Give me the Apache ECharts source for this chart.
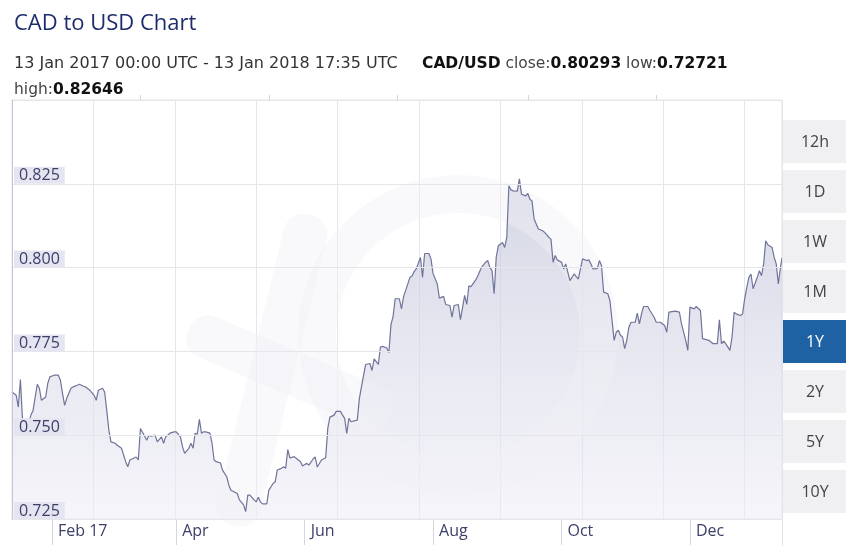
<!DOCTYPE html>
<html>
<head>
<meta charset="utf-8">
<script src="https://cdn.jsdelivr.net/npm/echarts@6/dist/echarts.min.js"></script>
<style>
html,body{margin:0;padding:0;background:#fff;}
#chart{width:860px;height:546px;}
</style>
</head>
<body>
<div id="chart"></div>
<script>
// ---- data ----
const dates = [
'2017-01-13','2017-01-15','2017-01-16','2017-01-17','2017-01-18','2017-01-19','2017-01-21','2017-01-22','2017-01-23','2017-01-25',
'2017-01-26','2017-01-27','2017-01-29','2017-01-30','2017-01-31','2017-02-02','2017-02-04','2017-02-05','2017-02-06','2017-02-07',
'2017-02-08','2017-02-10','2017-02-11','2017-02-13','2017-02-14','2017-02-16','2017-02-17','2017-02-19','2017-02-21','2017-02-22',
'2017-02-23','2017-02-25','2017-02-26','2017-02-27','2017-02-28','2017-03-01','2017-03-03','2017-03-04','2017-03-06','2017-03-08',
'2017-03-09','2017-03-10','2017-03-12','2017-03-13','2017-03-14','2017-03-15','2017-03-16','2017-03-18','2017-03-19','2017-03-20',
'2017-03-22','2017-03-23','2017-03-25','2017-03-26','2017-03-27','2017-03-29','2017-03-31','2017-04-01','2017-04-03','2017-04-04',
'2017-04-05','2017-04-07','2017-04-08','2017-04-09','2017-04-10','2017-04-11','2017-04-12','2017-04-13','2017-04-14','2017-04-15',
'2017-04-17','2017-04-18','2017-04-19','2017-04-20','2017-04-22','2017-04-23','2017-04-25','2017-04-26','2017-04-27','2017-04-30',
'2017-05-01','2017-05-03','2017-05-04','2017-05-05','2017-05-06','2017-05-08','2017-05-09','2017-05-10','2017-05-11','2017-05-12',
'2017-05-14','2017-05-15','2017-05-17','2017-05-18','2017-05-19','2017-05-21','2017-05-22','2017-05-23','2017-05-24','2017-05-25',
'2017-05-27','2017-05-28','2017-05-30','2017-05-31','2017-06-02','2017-06-03','2017-06-05','2017-06-06','2017-06-07','2017-06-09',
'2017-06-11','2017-06-12','2017-06-13','2017-06-15','2017-06-16','2017-06-18','2017-06-19','2017-06-20','2017-06-21','2017-06-22',
'2017-06-23','2017-06-26','2017-06-27','2017-06-29','2017-06-30','2017-07-02','2017-07-03','2017-07-04','2017-07-06','2017-07-07',
'2017-07-08','2017-07-10','2017-07-11','2017-07-12','2017-07-13','2017-07-14','2017-07-16','2017-07-17','2017-07-18','2017-07-19',
'2017-07-21','2017-07-22','2017-07-23','2017-07-24','2017-07-26','2017-07-27','2017-07-28','2017-07-30','2017-07-31','2017-08-01',
'2017-08-03','2017-08-04','2017-08-06','2017-08-07','2017-08-09','2017-08-10','2017-08-11','2017-08-13','2017-08-14','2017-08-16',
'2017-08-17','2017-08-18','2017-08-19','2017-08-21','2017-08-22','2017-08-24','2017-08-26','2017-08-27','2017-08-28','2017-08-29',
'2017-08-30','2017-08-31','2017-09-01','2017-09-03','2017-09-04','2017-09-05','2017-09-06','2017-09-07','2017-09-08','2017-09-10',
'2017-09-11','2017-09-12','2017-09-14','2017-09-15','2017-09-16','2017-09-17','2017-09-18','2017-09-20','2017-09-22','2017-09-23',
'2017-09-25','2017-09-26','2017-09-27','2017-09-28','2017-09-29','2017-10-01','2017-10-02','2017-10-03','2017-10-05','2017-10-07',
'2017-10-08','2017-10-09','2017-10-11','2017-10-13','2017-10-14','2017-10-15','2017-10-16','2017-10-18','2017-10-19','2017-10-20',
'2017-10-21','2017-10-23','2017-10-24','2017-10-25','2017-10-26','2017-10-27','2017-10-28','2017-10-29','2017-10-30','2017-10-31',
'2017-11-01','2017-11-02','2017-11-03','2017-11-05','2017-11-06','2017-11-07','2017-11-08','2017-11-09','2017-11-11','2017-11-12',
'2017-11-14','2017-11-15','2017-11-17','2017-11-18','2017-11-19','2017-11-20','2017-11-21','2017-11-24','2017-11-26','2017-11-27',
'2017-11-29','2017-11-30','2017-12-01','2017-12-03','2017-12-04','2017-12-06','2017-12-07','2017-12-10','2017-12-12','2017-12-14',
'2017-12-15','2017-12-16','2017-12-17','2017-12-18','2017-12-20','2017-12-21','2017-12-22','2017-12-23','2017-12-25','2017-12-26',
'2017-12-27','2017-12-28','2017-12-29','2017-12-30','2017-12-31','2018-01-02','2018-01-03','2018-01-04','2018-01-05','2018-01-06',
'2018-01-07','2018-01-09','2018-01-10','2018-01-11','2018-01-12','2018-01-13','2018-01-13 17:35'
];
const rates = [
0.7629,0.7619,0.7584,0.7666,0.7545,0.7533,0.7539,0.7560,0.7574,0.7652,
0.7640,0.7604,0.7614,0.7655,0.7674,0.7679,0.7679,0.7664,0.7625,0.7589,
0.7610,0.7640,0.7644,0.7649,0.7652,0.7646,0.7644,0.7634,0.7619,0.7604,
0.7634,0.7640,0.7629,0.7574,0.7515,0.7480,0.7476,0.7470,0.7461,0.7421,
0.7406,0.7426,0.7432,0.7435,0.7426,0.7520,0.7509,0.7485,0.7500,0.7497,
0.7500,0.7480,0.7495,0.7476,0.7495,0.7506,0.7510,0.7510,0.7495,0.7465,
0.7446,0.7461,0.7476,0.7461,0.7506,0.7503,0.7547,0.7506,0.7510,0.7510,
0.7506,0.7476,0.7426,0.7421,0.7417,0.7396,0.7376,0.7351,0.7336,0.7326,
0.7307,0.7292,0.72721,0.7321,0.7321,0.7307,0.7301,0.7315,0.7301,0.7295,
0.7295,0.7336,0.7356,0.7361,0.7396,0.7401,0.7406,0.7401,0.7457,0.7432,
0.7436,0.7431,0.7421,0.7408,0.7416,0.7411,0.7429,0.7435,0.7405,0.7426,
0.7433,0.7521,0.7554,0.7560,0.7571,0.7571,0.7560,0.7550,0.7505,0.7550,
0.7540,0.7545,0.7610,0.7679,0.7711,0.7714,0.7693,0.7728,0.7711,0.7763,
0.7765,0.7760,0.7747,0.7830,0.7854,0.7907,0.7907,0.7877,0.7914,0.7932,
0.7971,0.7975,0.7988,0.7996,0.8030,0.7971,0.8042,0.8042,0.8026,0.7982,
0.7951,0.7909,0.7914,0.7890,0.7887,0.7852,0.7887,0.7890,0.7845,0.7917,
0.7890,0.7946,0.7943,0.7961,0.7972,0.8001,0.8016,0.8021,0.8000,0.7991,
0.7922,0.8031,0.8065,0.8075,0.8060,0.8090,0.8244,0.8232,0.8229,0.8228,
0.82646,0.8219,0.8214,0.8221,0.8204,0.8199,0.8145,0.8115,0.8110,0.8105,
0.8090,0.8085,0.8016,0.8036,0.8023,0.8016,0.7996,0.8011,0.7961,0.7981,
0.7973,0.7966,0.8026,0.8021,0.8023,0.8011,0.7996,0.7997,0.8021,0.8006,
0.7927,0.7922,0.7902,0.7842,0.7783,0.7807,0.7813,0.7798,0.7793,0.7758,
0.7783,0.7822,0.7837,0.7837,0.7864,0.7832,0.7862,0.7884,0.7884,0.7872,
0.7852,0.7837,0.7837,0.7832,0.7827,0.7807,0.7867,0.7870,0.7867,0.7832,
0.7783,0.7753,0.7882,0.7877,0.7884,0.7872,0.7788,0.7783,0.7773,0.7773,
0.7844,0.7773,0.7781,0.7773,0.7753,0.7793,0.7867,0.7862,0.7857,0.7862,
0.7907,0.7941,0.7971,0.7981,0.7937,0.7971,0.7991,0.7976,0.8011,0.8080,
0.8068,0.8060,0.8031,0.8011,0.7951,0.8001,0.80293
];
const rangeStart = '2017-01-13 00:00';
const rangeEnd = '2018-01-13 17:35';
const yTickValues = [0.725, 0.750, 0.775, 0.800, 0.825];
const monthTickDates = ['2017-02-01','2017-04-01','2017-06-01','2017-08-01','2017-10-01','2017-12-01'];
const monthTickLabels = ['Feb 17','Apr','Jun','Aug','Oct','Dec'];
const midTickDates = ['2017-03-15','2017-05-15','2017-07-15','2017-09-15','2017-11-15'];
const rangeButtons = ['12h','1D','1W','1M','1Y','2Y','5Y','10Y'];
const activeButton = '1Y';
const chartTitle = 'CAD to USD Chart';
const periodText = '13 Jan 2017 00:00 UTC - 13 Jan 2018 17:35 UTC';
const pairName = 'CAD/USD';
const closeValue = '0.80293';
const lowValue = '0.72721';
const highValue = '0.82646';

// ---- helpers ----
function ts(s) {
  const m = s.match(/(\d+)-(\d+)-(\d+)(?:\s+(\d+):(\d+))?/);
  return Date.UTC(+m[1], +m[2]-1, +m[3], m[4] ? +m[4] : 0, m[5] ? +m[5] : 0);
}
const DAY = 86400000;
const t0 = ts(rangeStart), t1 = ts(rangeEnd);
const monthTs = monthTickDates.map(ts);
const midTs = midTickDates.map(ts);
const seriesData = dates.map((d, i) => [ts(d), rates[i]]);

const FONT = "'Open Sans', 'DejaVu Sans', sans-serif";
const FONT_W = "'DejaVu Sans', 'Open Sans', sans-serif";
const chart = echarts.init(document.getElementById('chart'), null, {renderer: 'canvas'});

const gridLeft = 12, gridTop = 100, gridRight = 78, gridBottom = 27;
const btnX = 782, btnW = 64, btnH = 43, btnTop = 120, btnStep = 50;

const graphics = [];
// faint watermark (xe logo impression): above the area fill, below the line
const wmFill = 'rgba(240,240,246,0.42)';
graphics.push({
  type: 'ring', z: 3, silent: true,
  shape: {cx: 458, cy: 335, r: 160, r0: 122},
  style: {fill: wmFill}
});
graphics.push({
  type: 'rect', z: 3, silent: true,
  x: 272, y: 370, rotation: 1.33,
  shape: {x: -160, y: -22, width: 320, height: 44, r: 20},
  style: {fill: wmFill}
});
graphics.push({
  type: 'rect', z: 3, silent: true,
  x: 290, y: 372, rotation: -0.4,
  shape: {x: -110, y: -22, width: 220, height: 44, r: 20},
  style: {fill: wmFill}
});
// right divider
graphics.push({
  type: 'line', z: 5, silent: true,
  shape: {x1: btnX + 0.5, y1: gridTop, x2: btnX + 0.5, y2: 546},
  style: {stroke: '#e3e3e8', lineWidth: 1}
});
// range buttons
rangeButtons.forEach((label, i) => {
  const active = label === activeButton;
  graphics.push({
    type: 'group', x: btnX + 1, y: btnTop + i * btnStep, z: 5,
    children: [
      {type: 'rect', shape: {x: 0, y: 0, width: btnW - 1, height: btnH},
       style: {fill: active ? '#1f62a3' : '#f0f0f3'}},
      {type: 'text', x: btnW / 2, y: btnH / 2 + 1,
       style: {text: label, fill: active ? '#ffffff' : '#444444', font: "16px " + FONT,
               align: 'center', verticalAlign: 'middle'}}
    ]
  });
});

const option = {
  backgroundColor: '#ffffff',
  animation: false,
  title: [
    {
      text: chartTitle, left: 9, top: 8,
      textStyle: {fontFamily: FONT, fontSize: 22, fontWeight: 'normal', color: '#1c2c6c'}
    },
    {
      text: periodText, left: 9, top: 51,
      textStyle: {fontFamily: FONT_W, fontSize: 16, fontWeight: 'normal', color: '#333'}
    },
    {
      text: '{b|' + pairName + '}{n| close:}{b|' + closeValue + '}{n| low:}{b|' + lowValue + '}',
      left: 417, top: 51,
      textStyle: {fontFamily: FONT_W, fontSize: 15.5, fontWeight: 'normal', color: '#444',
        rich: {
          b: {fontFamily: FONT_W, fontSize: 15.5, fontWeight: 'bold', color: '#111'},
          n: {fontFamily: FONT_W, fontSize: 15.5, fontWeight: 'normal', color: '#444'}
        }}
    },
    {
      text: '{n|high:}{b|' + highValue + '}', left: 9, top: 77,
      textStyle: {fontFamily: FONT_W, fontSize: 15.5, fontWeight: 'normal', color: '#444',
        rich: {
          b: {fontFamily: FONT_W, fontSize: 15.5, fontWeight: 'bold', color: '#111'},
          n: {fontFamily: FONT_W, fontSize: 15.5, fontWeight: 'normal', color: '#444'}
        }}
    }
  ],
  grid: {left: gridLeft, top: gridTop, right: gridRight, bottom: gridBottom, containLabel: false,
         show: true, borderColor: '#e4e4e8', borderWidth: 1},
  xAxis: [
    {
      type: 'value', min: t0, max: t1,
      axisLine: {show: true, lineStyle: {color: '#c3c6da', width: 1}},
      axisTick: {show: true, customValues: monthTs, length: 26, lineStyle: {color: '#d3d5e0'}},
      axisLabel: {
        show: true, customValues: monthTs,
        formatter: (v) => { const k = monthTs.indexOf(v); return k >= 0 ? monthTickLabels[k] : ''; },
        align: 'left', padding: [0, 0, 0, 6], margin: 4,
        fontFamily: FONT, fontSize: 16, color: '#3c4068'
      },
      splitLine: {show: false}
    },
    {
      type: 'value', min: 0, max: (t1 - t0) / DAY, interval: 38.66,
      axisLine: {show: false}, axisTick: {show: false}, axisLabel: {show: false},
      splitLine: {show: true, lineStyle: {color: '#e6e6ea', width: 1}}
    },
    {
      type: 'value', min: t0, max: t1,
      axisLine: {show: false},
      axisTick: {show: true, customValues: midTs, length: 5, lineStyle: {color: '#d3d5e0'}},
      axisLabel: {show: false}, splitLine: {show: false}
    }
  ],
  yAxis: {
    type: 'value', min: 0.725, max: 0.85, interval: 0.025,
    axisLine: {show: true, lineStyle: {color: '#c3c6da', width: 1}},
    axisTick: {show: false},
    splitLine: {show: true, lineStyle: {color: '#e6e6ea', width: 1}},
    axisLabel: {
      show: true, inside: true, customValues: yTickValues,
      formatter: (v) => v.toFixed(3),
      align: 'left', verticalAlign: 'bottom', margin: 2,
      backgroundColor: '#e4e5f0', padding: [1, 5, 0, 5], lineHeight: 16,
      fontFamily: FONT, fontSize: 16, color: '#3c4068'
    },
    z: 6
  },
  series: [
    {
      name: 'area', type: 'line', xAxisIndex: 0, yAxisIndex: 0,
      data: seriesData, showSymbol: false, symbol: 'none', silent: true,
      lineStyle: {width: 0, opacity: 0},
      areaStyle: {
        color: new echarts.graphic.LinearGradient(0, 0, 0, 1, [
          {offset: 0, color: 'rgba(188,191,214,0.9)'},
          {offset: 1, color: 'rgba(236,236,245,0.75)'}
        ])
      },
      z: 2
    },
    {
      name: pairName, type: 'line', xAxisIndex: 0, yAxisIndex: 0,
      data: seriesData, showSymbol: false, symbol: 'none',
      lineStyle: {color: '#6f7498', width: 1.2},
      z: 4
    }
  ],
  graphic: graphics
};
chart.setOption(option);
</script>
</body>
</html>
